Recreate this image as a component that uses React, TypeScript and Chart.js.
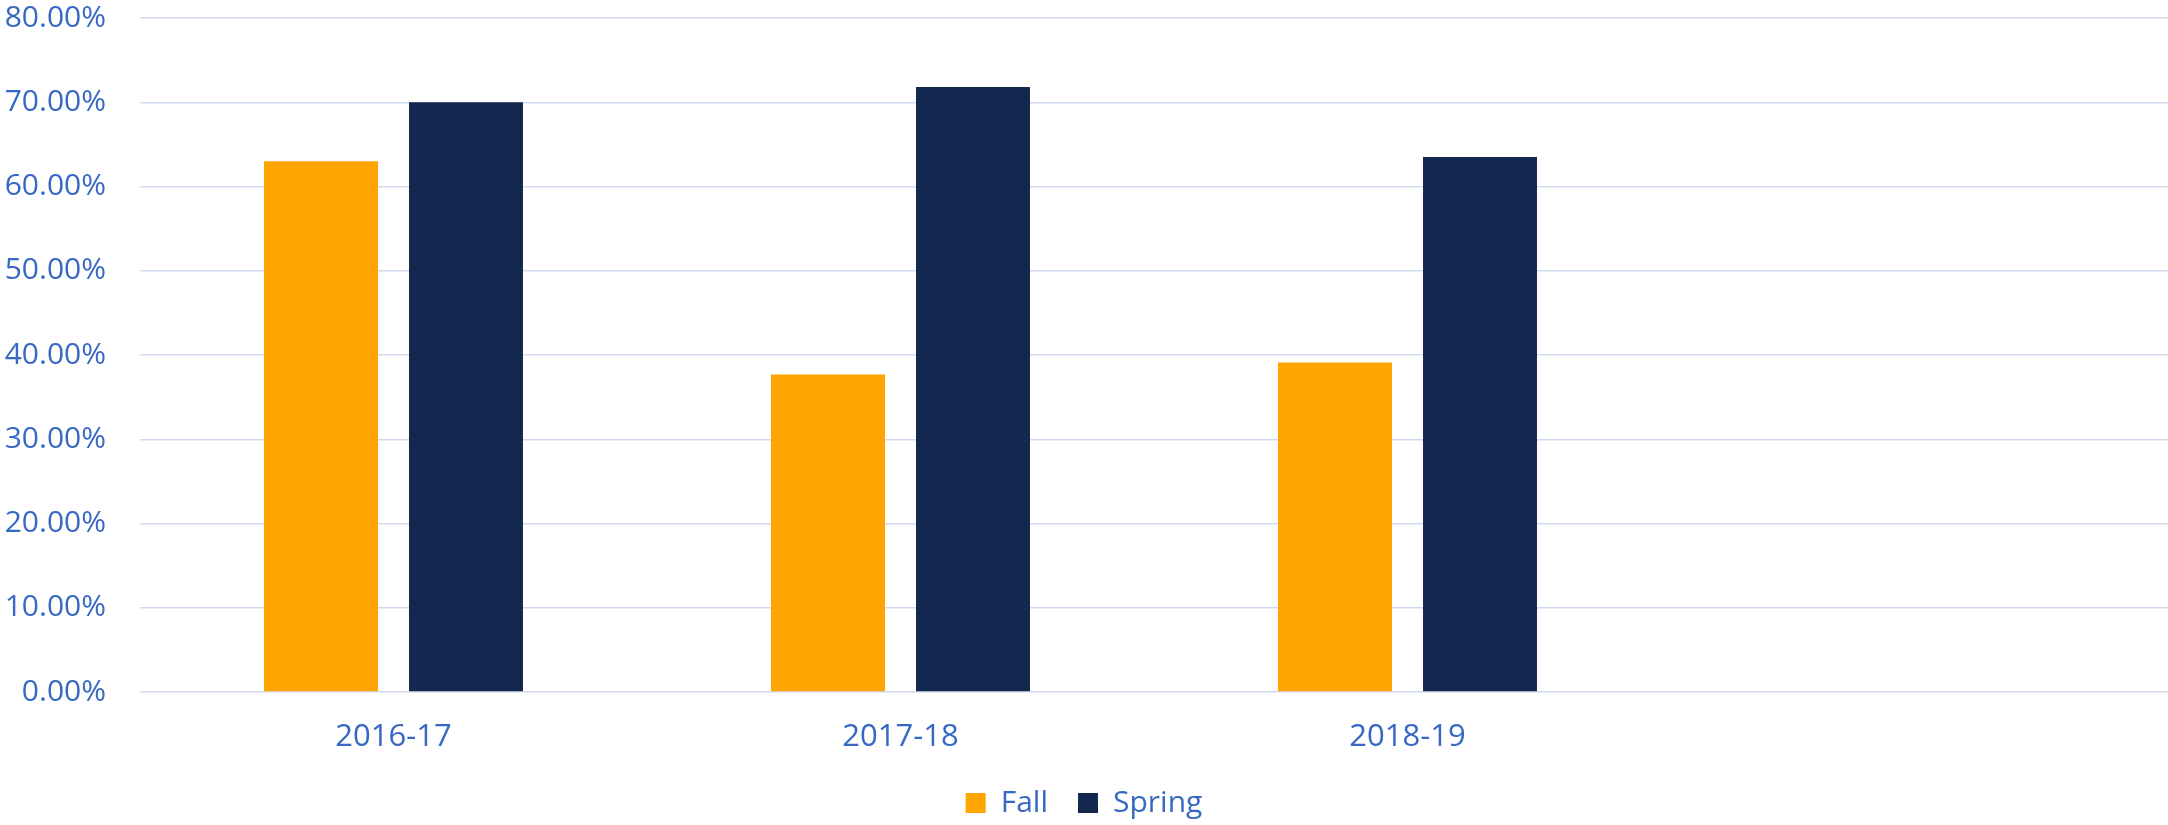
import React, { useEffect, useRef } from "react";
import { Chart, registerables } from "chart.js";

Chart.register(...registerables);

const categories = ["2016-17", "2017-18", "2018-19", ""];
const fallValues = [63.0, 37.7, 39.1, null];
const springValues = [70.0, 71.8, 63.5, null];
const yTicks = [0, 10, 20, 30, 40, 50, 60, 70, 80];

const TEXT = "#3668c4";
const GRID = "#cfdaf0";
const FALL = "#ffa500";
const SPRING = "#14284f";
const FONT = "'Open Sans', sans-serif";

export default function App() {
  const ref = useRef<HTMLCanvasElement | null>(null);
  useEffect(() => {
    if (!ref.current) return;
    const chart = new Chart(ref.current, {
      type: "bar",
      data: {
        labels: categories,
        datasets: [
          { label: "Fall", data: fallValues, backgroundColor: FALL, categoryPercentage: 0.572, barPercentage: 0.786 },
          { label: "Spring", data: springValues, backgroundColor: SPRING, categoryPercentage: 0.572, barPercentage: 0.786 },
        ],
      },
      options: {
        responsive: false,
        animation: false,
        layout: { padding: { top: 1, left: 0, right: 0, bottom: -3 } },
        plugins: {
          tooltip: { enabled: false },
          legend: {
            position: "bottom",
            labels: {
              color: TEXT,
              font: { family: FONT, size: 30 },
              boxWidth: 20,
              boxHeight: 20,
              padding: 30,
            },
          },
        },
        scales: {
          x: {
            grid: { display: false, drawTicks: false },
            border: { display: false },
            ticks: { color: TEXT, font: { family: FONT, size: 31 }, padding: 27, maxRotation: 0 },
            afterFit: (s: any) => { s.height = 66; },
          },
          y: {
            min: 0,
            max: 80,
            afterBuildTicks: (s: any) => { s.ticks = yTicks.map((v) => ({ value: v })); },
            grid: { color: GRID, lineWidth: 1.5, drawTicks: false },
            border: { display: false },
            ticks: {
              color: TEXT,
              font: { family: FONT, size: 30 },
              padding: 34,
              callback: (v: any) => Number(v).toFixed(2) + "%",
            },
            afterFit: (s: any) => { s.width = 140; s.paddingTop = 18; s.paddingBottom = 18; },
          },
        },
      },
    });
    return () => chart.destroy();
  }, []);
  return (
    <div style={{ position: "absolute", left: 0, top: 0, width: 2168, height: 825, background: "#fff" }}>
      <canvas ref={ref} width={2168} height={825} />
    </div>
  );
}
